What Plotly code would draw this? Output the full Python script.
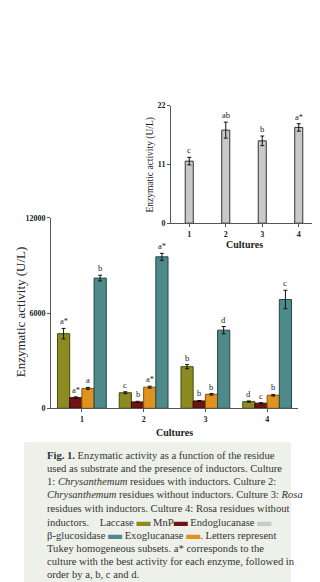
import plotly.graph_objects as go

W, H = 320, 582
SERIF = "Liberation Serif"

# ---------------- data ----------------
cultures = [1, 2, 3, 4]
culture_labels = ["1", "2", "3", "4"]

enzymes = ["Laccase", "MnP", "Exoglucanase", "β-glucosidase"]
colors = ["#8b8b22", "#6e1414", "#e0921f", "#4f8a8a"]
edge_colors = ["#4a4a0c", "#3a0606", "#8a5208", "#274848"]

laccase = [4700, 980, 2620, 420]
laccase_err = [330, 60, 130, 40]
mnp = [670, 400, 460, 320]
mnp_err = [50, 40, 30, 30]
exoglucanase = [1250, 1330, 880, 820]
exoglucanase_err = [60, 60, 50, 50]
bglucosidase = [8200, 9540, 4920, 6850]
bglucosidase_err = [180, 220, 230, 580]

values = [laccase, mnp, exoglucanase, bglucosidase]
errors = [laccase_err, mnp_err, exoglucanase_err, bglucosidase_err]

letters = [
    ["a*", "c", "b", "d"],      # laccase
    ["a*", "b", "b", "c"],      # MnP
    ["a", "a*", "b", "b"],      # exoglucanase
    ["b", "a*", "d", "c"],      # beta-glucosidase
]

endoglucanase = [11.6, 17.4, 15.4, 17.9]
endoglucanase_err = [0.7, 1.5, 0.9, 0.7]
endo_letters = ["c", "ab", "b", "a*"]

main_yticks = [0, 6000, 12000]
main_yticktext = ["0", "6000", "12000"]
inset_yticks = [0, 11, 22]
inset_yticktext = ["0", "11", "22"]

# ---------------- layout helpers ----------------
def px(x):
    return x / W

def py(y):
    return 1 - y / H

BARGAP = 0.21
INSET_BARGAP = 0.78

fig = go.Figure()

# main grouped bars
for i, name in enumerate(enzymes):
    fig.add_trace(go.Bar(
        x=cultures, y=values[i], name=name,
        marker=dict(color=colors[i], line=dict(color=edge_colors[i], width=1)),
        error_y=dict(type="data", array=errors[i], color="#111111", thickness=1, width=2),
        xaxis="x", yaxis="y", showlegend=False,
    ))

# inset bars
fig.add_trace(go.Bar(
    x=cultures, y=endoglucanase, name="Endoglucanase",
    width=1 - INSET_BARGAP,
    marker=dict(color="#c9c9c9", line=dict(color="#333333", width=1)),
    error_y=dict(type="data", array=endoglucanase_err, color="#111111", thickness=1, width=2),
    xaxis="x2", yaxis="y2", showlegend=False,
))

annotations = []
n = len(enzymes)
gw = 1 - BARGAP
bw = gw / n
for i in range(n):
    off = -gw / 2 + bw * (i + 0.5)
    for j, c in enumerate(cultures):
        annotations.append(dict(
            x=c + off, y=values[i][j] + errors[i][j], xref="x", yref="y",
            text=letters[i][j], showarrow=False, xanchor="center", yanchor="bottom",
            font=dict(family=SERIF, size=8.5, color="#222222"),
        ))
for j, c in enumerate(cultures):
    annotations.append(dict(
        x=c, y=endoglucanase[j] + endoglucanase_err[j], xref="x2", yref="y2",
        text=endo_letters[j], showarrow=False, xanchor="center", yanchor="bottom",
        font=dict(family=SERIF, size=8.5, color="#222222"),
    ))

# axis titles
annotations += [
    dict(x=px(12), y=py(305), xref="paper", yref="paper", text="Enzymatic activity (U/L)",
         textangle=-90, showarrow=False, xanchor="center", yanchor="middle",
         font=dict(family=SERIF, size=13, color="#222222")),
    dict(x=px(143), y=py(155), xref="paper", yref="paper", text="Enzymatic activity (U/L)",
         textangle=-90, showarrow=False, xanchor="center", yanchor="middle",
         font=dict(family=SERIF, size=9.5, color="#222222")),
    dict(x=px(166), y=py(427), xref="paper", yref="paper", text="<b>Cultures</b>",
         showarrow=False, xanchor="center", yanchor="middle",
         font=dict(family=SERIF, size=10, color="#222222")),
    dict(x=px(236), y=py(236), xref="paper", yref="paper", text="<b>Cultures</b>",
         showarrow=False, xanchor="center", yanchor="middle",
         font=dict(family=SERIF, size=10, color="#222222")),
]

# caption
def sw(col):
    return f"<span style='color:{col};font-size:14px'>▬</span>"

caption_lines = [
    "<b>Fig. 1.</b> Enzymatic activity as a function of the residue",
    "used as substrate and the presence of inductors. Culture",
    "1: <i>Chrysanthemum</i> residues with inductors. Culture 2:",
    "<i>Chrysanthemum</i> residues without inductors. Culture 3: <i>Rosa</i>",
    "residues with inductors. Culture 4: Rosa residues without",
    f"inductors.    Laccase {sw(colors[0])} MnP{sw(colors[1])} Endoglucanase {sw('#c9c9c9')}",
    f"β-glucosidase {sw(colors[3])} Exoglucanase {sw(colors[2])}. Letters represent",
    "Tukey homogeneous subsets. a* corresponds to the",
    "culture with the best activity for each enzyme, followed in",
    "order by a, b, c and d.",
]
for k, line in enumerate(caption_lines):
    annotations.append(dict(
        x=px(37), y=py(450 + 13.5 * k), xref="paper", yref="paper", text=line,
        xanchor="left", yanchor="middle", showarrow=False, align="left",
        font=dict(family=SERIF, size=10.6, color="#333333"),
    ))

shapes = [dict(type="rect", xref="paper", yref="paper", x0=px(16), x1=px(283),
               y0=0, y1=py(437), fillcolor="#eef1e9", line=dict(width=0), layer="below")]

axis_common = dict(showline=True, linecolor="#555555", linewidth=1, ticks="outside",
                   ticklen=3, tickcolor="#555555", showgrid=False, zeroline=False,
                   tickfont=dict(family=SERIF, size=8, color="#222222", weight="bold"))

fig.update_layout(
    width=W, height=H, margin=dict(l=0, r=0, t=0, b=0),
    paper_bgcolor="white", plot_bgcolor="rgba(0,0,0,0)",
    barmode="group", bargap=BARGAP, bargroupgap=0,
    xaxis=dict(domain=[px(43), px(290)], range=[0.5, 4.5], tickvals=cultures,
               ticktext=culture_labels, anchor="y", **axis_common),
    yaxis=dict(domain=[py(402.5), py(209)], range=[0, 12000], tickvals=main_yticks,
               ticktext=main_yticktext, anchor="x", **axis_common),
    xaxis2=dict(domain=[px(163), px(309)], range=[0.5, 4.5], tickvals=cultures,
                ticktext=culture_labels, anchor="y2", **axis_common),
    yaxis2=dict(domain=[py(214.5), py(95)], range=[0, 22], tickvals=inset_yticks,
                ticktext=inset_yticktext, anchor="x2", **axis_common),
    annotations=annotations, shapes=shapes,
)

fig.write_html("out.html")
